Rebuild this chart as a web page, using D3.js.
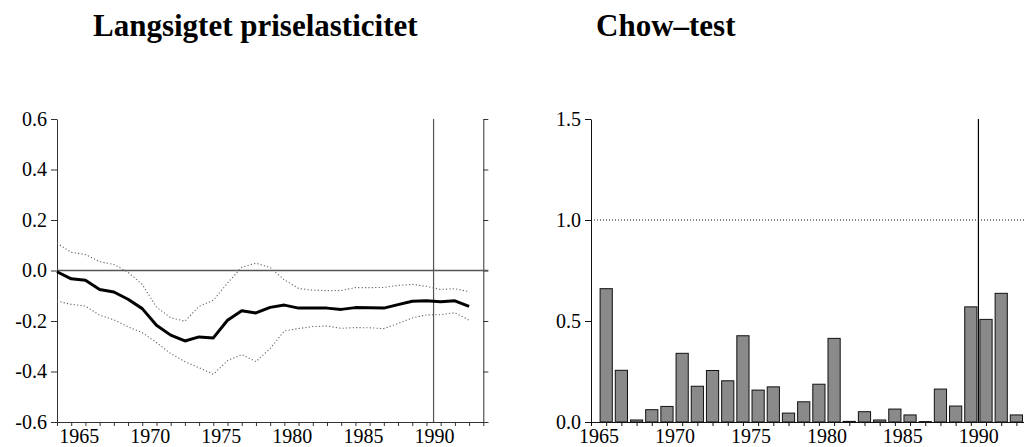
<!DOCTYPE html>
<html>
<head>
<meta charset="utf-8">
<script src="https://cdn.jsdelivr.net/npm/d3@7"></script>
<style>
  html, body { margin: 0; padding: 0; background: #fff; }
  svg { display: block; }
  svg text { font-family: "Liberation Serif", "DejaVu Serif", serif; }
</style>
</head>
<body>
<svg id="chart" width="1027" height="447"></svg>
<script>
// Recursive estimates: long-run price elasticity with ±2 s.e. band
const years = d3.range(1964, 1994);
const elasticity = [-0.005, -0.033, -0.039, -0.075, -0.085, -0.114, -0.151, -0.217, -0.256, -0.279,
  -0.263, -0.267, -0.197, -0.159, -0.168, -0.146, -0.137, -0.149, -0.149, -0.149,
  -0.154, -0.147, -0.148, -0.149, -0.135, -0.122, -0.120, -0.124, -0.120, -0.142];
const upperBand = [0.108, 0.072, 0.063, 0.035, 0.024, -0.007, -0.055, -0.145, -0.187, -0.201,
  -0.142, -0.118, -0.050, 0.013, 0.029, 0.012, -0.037, -0.071, -0.078, -0.080,
  -0.079, -0.068, -0.068, -0.067, -0.059, -0.055, -0.063, -0.075, -0.072, -0.084];
const lowerBand = [-0.121, -0.134, -0.141, -0.177, -0.195, -0.223, -0.246, -0.285, -0.329, -0.361,
  -0.385, -0.411, -0.357, -0.333, -0.361, -0.309, -0.239, -0.230, -0.222, -0.220,
  -0.229, -0.226, -0.227, -0.230, -0.210, -0.188, -0.176, -0.175, -0.167, -0.197];

// Chow break-point test statistics (scaled by critical value)
const chowYears = d3.range(1966, 1994);
const chowValues = [0.660, 0.256, 0.010, 0.061, 0.077, 0.340, 0.177, 0.255, 0.204, 0.427,
  0.158, 0.174, 0.044, 0.100, 0.187, 0.414, 0.003, 0.051, 0.010, 0.064,
  0.035, 0.002, 0.163, 0.079, 0.570, 0.508, 0.637, 0.035];

const leftTickValues = [-0.6, -0.4, -0.2, 0.0, 0.2, 0.4, 0.6];
const leftTickLabels = ["-0.6", "-0.4", "-0.2", "0.0", "0.2", "0.4", "0.6"];
const rightTickValues = [0.0, 0.5, 1.0, 1.5];
const rightTickLabels = ["0.0", "0.5", "1.0", "1.5"];
const yearLabels = [1965, 1970, 1975, 1980, 1985, 1990];
const titles = ["Langsigtet priselasticitet", "Chow\u2013test"];
const breakYear = 1990.5;
const criticalLevel = 1.0;

const serif = "'Liberation Serif', 'DejaVu Serif', serif";
const svg = d3.select("#chart");

function heading(g, x, y, label) {
  g.append("text")
    .attr("x", x).attr("y", y)
    .attr("font-size", 31).attr("font-weight", "bold")
    .attr("font-family", serif)
    .text(label);
}

// ---------- Left panel ----------
const xL = d3.scaleLinear().domain([1964, 1994]).range([57, 483.3]);
const yL = d3.scaleLinear().domain([-0.6, 0.6]).range([422, 119]);

const left = svg.append("g");
heading(left, 93, 36, titles[0]);

const axL = left.append("g").attr("transform", `translate(${xL(1964)},0)`)
  .call(d3.axisLeft(yL).tickValues(leftTickValues).tickSize(6).tickSizeOuter(0)
    .tickPadding(4).tickFormat((d, i) => leftTickLabels[i]));
const axR = left.append("g").attr("transform", `translate(${xL(1994)},0)`)
  .call(d3.axisRight(yL).tickValues(leftTickValues).tickSize(5).tickSizeOuter(0).tickFormat(""));
const axB = left.append("g").attr("transform", `translate(0,${yL(-0.6)})`)
  .call(d3.axisBottom(xL).tickValues(d3.range(1964, 1995)).tickSize(4).tickSizeOuter(0).tickFormat(""));
[axL, axR, axB].forEach(a => {
  a.attr("font-family", serif);
  a.selectAll("path, line").attr("stroke", "#333").attr("stroke-width", 1);
  a.selectAll("text").attr("font-size", 20).attr("fill", "#000").attr("font-family", serif);
});
axB.select(".domain").attr("d", `M${xL(1964)},0.5H${xL(1994) + 5}`);

left.selectAll(".yearLabelL").data(yearLabels).enter().append("text")
  .attr("class", "yearLabelL")
  .attr("x", d => xL(d) + 8).attr("y", 442.5)
  .attr("text-anchor", "middle").attr("font-size", 20).attr("font-family", serif)
  .text(d => d);

// zero line
left.append("line")
  .attr("x1", xL(1964)).attr("x2", xL(1994) + 5)
  .attr("y1", yL(0)).attr("y2", yL(0))
  .attr("stroke", "#555").attr("stroke-width", 1.5);

// break line
left.append("line")
  .attr("x1", xL(breakYear)).attr("x2", xL(breakYear))
  .attr("y1", yL(0.6)).attr("y2", yL(-0.6))
  .attr("stroke", "#555").attr("stroke-width", 1.2);

const lineL = d3.line().x((d, i) => xL(years[i])).y(d => yL(d));

left.append("path").datum(upperBand)
  .attr("d", lineL).attr("fill", "none")
  .attr("stroke", "#666").attr("stroke-width", 1.1).attr("stroke-dasharray", "1.2,2.2");
left.append("path").datum(lowerBand)
  .attr("d", lineL).attr("fill", "none")
  .attr("stroke", "#666").attr("stroke-width", 1.1).attr("stroke-dasharray", "1.2,2.2");
left.append("path").datum(elasticity)
  .attr("d", lineL).attr("fill", "none")
  .attr("stroke", "#000").attr("stroke-width", 3).attr("stroke-linejoin", "round");

// ---------- Right panel ----------
const xR = d3.scaleLinear().domain([1965, 1993.5]).range([591, 1024]);
const yR = d3.scaleLinear().domain([0, 1.5]).range([422, 119]);
const barW = 12.2;

const right = svg.append("g");
heading(right, 596, 36, titles[1]);

right.selectAll(".bar").data(chowValues).enter().append("rect")
  .attr("class", "bar")
  .attr("x", (d, i) => xR(chowYears[i]) - barW / 2)
  .attr("width", barW)
  .attr("y", d => yR(d))
  .attr("height", d => yR(0) - yR(d))
  .attr("fill", "#8a8a8a").attr("stroke", "#111").attr("stroke-width", 1);

const axL2 = right.append("g").attr("transform", `translate(${xR(1965)},0)`)
  .call(d3.axisLeft(yR).tickValues(rightTickValues).tickSize(6).tickSizeOuter(0)
    .tickPadding(4).tickFormat((d, i) => rightTickLabels[i]));
const axB2 = right.append("g").attr("transform", `translate(0,${yR(0)})`)
  .call(d3.axisBottom(xR).tickValues(d3.range(1965, 1994)).tickSize(4).tickSizeOuter(0).tickFormat(""));
[axL2, axB2].forEach(a => {
  a.attr("font-family", serif);
  a.selectAll("path, line").attr("stroke", "#111").attr("stroke-width", 1);
  a.selectAll("text").attr("font-size", 20).attr("fill", "#000").attr("font-family", serif);
});
axB2.select(".domain").attr("d", `M${xR(1965) - 5},0.5H${xR(1993.5)}`);

right.selectAll(".yearLabelR").data(yearLabels).enter().append("text")
  .attr("class", "yearLabelR")
  .attr("x", d => xR(d) + 8).attr("y", 442.5)
  .attr("text-anchor", "middle").attr("font-size", 20).attr("font-family", serif)
  .text(d => d);

// critical value line
right.append("line")
  .attr("x1", xR(1965)).attr("x2", 1026)
  .attr("y1", yR(criticalLevel)).attr("y2", yR(criticalLevel))
  .attr("stroke", "#111").attr("stroke-width", 1).attr("stroke-dasharray", "1,2");

// break line
right.append("line")
  .attr("x1", xR(breakYear)).attr("x2", xR(breakYear))
  .attr("y1", yR(1.5)).attr("y2", yR(0))
  .attr("stroke", "#000").attr("stroke-width", 1.2);
</script>
</body>
</html>
